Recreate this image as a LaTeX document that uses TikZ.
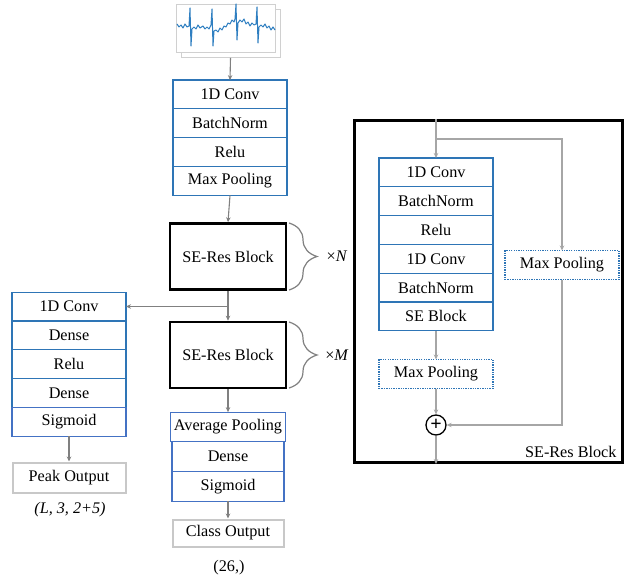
\documentclass[tikz,border=0pt]{standalone}
\usepackage{fontspec}
\setmainfont{Liberation Serif}
\usetikzlibrary{positioning,arrows.meta,decorations.pathreplacing}

\definecolor{layerblue}{HTML}{2E75B6}
\definecolor{headblue}{HTML}{4472C4}
\definecolor{flowgray}{HTML}{808080}
\definecolor{skipgray}{HTML}{A6A6A6}
\definecolor{outgray}{HTML}{C8C8C8}
\definecolor{sheetgray}{HTML}{D0D0D0}
\definecolor{ecgblue}{HTML}{2F7FC1}

\tikzset{
	netpicture/.style = {
		x = 1pt,
		y = -1pt,
		font = \fontsize{16.2}{19}\selectfont,
		arrow/.style = {
			draw = flowgray,
			line width = 1.1pt,
			-{Stealth[length = 5pt, width = 4.5pt]},
		},
		skiparrow/.style = {
			arrow,
			draw = skipgray,
		}
	},
	layer/.style = {
		rectangle,
		draw = layerblue,
		line width = 1.2pt,
		outer sep = 0pt,
		minimum width = 114pt,
		minimum height = 28.8pt
	},
	headlayer/.style = {
		layer,
		draw = headblue,
		minimum width = 112pt,
		minimum height = 29.7pt
	},
	poolbox/.style = {
		layer,
		dash pattern = on 1.3pt off 1.1pt,
		minimum height = 29pt
	},
	outbox/.style = {
		rectangle,
		draw = outgray,
		line width = 2pt,
		minimum height = 29pt
	},
	seres/.style = {
		rectangle,
		draw = black,
		line width = 2.6pt,
		minimum width = 116pt,
		minimum height = 66pt
	},
	blockbrace/.style = {
		draw = flowgray,
		line width = 1.2pt,
		decorate,
		decoration = {brace, amplitude = 28pt}
	},
	sheet/.style = {
		rectangle,
		draw = sheetgray,
		fill = white,
		line width = 0.8pt,
		minimum width = 99pt,
		minimum height = 48pt
	}
}

\begin{document}
\begin{tikzpicture}[netpicture]
	\useasboundingbox (0,0) rectangle (626,577);

	\node[sheet] (ecg) at (230.5,33.5) {};
	\node[sheet] (ecgfront) at (225.5,28) {};
	\draw[ecgblue, line width = 1pt, line join = round] plot coordinates {
		(177,24) (179,27) (181,25) (183,28) (185,24) (187,27) (189,26) (190,8) (191,46) (192,29)
		(194,27) (196,29) (198,25) (200,28) (203,26) (205,29) (207,27) (209,29) (211,25)
		(212,9) (213,46) (214,31) (216,30) (218,32) (220,28) (222,30) (224,26) (226,27)
		(228,23) (230,24) (232,20) (234,22) (235,19) (236,4) (237,40) (238,23) (240,20)
		(242,22) (244,19) (246,24) (248,22) (250,26) (252,23) (254,25) (256,24) (257,7)
		(258,43) (259,27) (261,25) (263,27) (265,24) (267,28) (269,26) (271,30) (273,27) (275,30)};

	\node[layer] (conv1) at (230,94.5) {1D Conv};
	\node[layer, below = 0pt of conv1] (bn1) {BatchNorm};
	\node[layer, below = 0pt of bn1] (relu1) {Relu};
	\node[layer, below = 0pt of relu1] (pool1) {Max Pooling};

	\node[seres] (seres1) at (228,256.5) {SE-Res Block};
	\node[seres] (seres2) at (228,355) {SE-Res Block};

	\draw[blockbrace] (289,223) -- (289,290);
	\node (timesN) at (337,256) {×\textit{N}};
	\draw[blockbrace] (289,322) -- (289,388);
	\node (timesM) at (337,355) {×\textit{M}};

	\node[layer] (pconv) at (69,306.5) {1D Conv};
	\node[layer, below = 0pt of pconv] (pdense1) {Dense};
	\node[layer, below = 0pt of pdense1] (prelu) {Relu};
	\node[layer, below = 0pt of prelu] (pdense2) {Dense};
	\node[layer, draw = headblue, below = 0pt of pdense2] (psig) {Sigmoid};
	\node[outbox, minimum width = 113pt, minimum height = 30pt] (peak) at (69,477.5) {Peak Output};
	\node (peakshape) at (70,510) {\textit{(L, 3, 2+5)}};

	\node[headlayer] (avgpool) at (228,427) {Average Pooling};
	\node[headlayer, below = 0pt of avgpool] (cdense) {Dense};
	\node[headlayer, below = 0pt of cdense] (csig) {Sigmoid};
	\node[outbox, minimum width = 111pt, minimum height = 27pt] (class) at (228,533) {Class Output};
	\node (classshape) at (229,568) {(26,)};

	\node[seres, line width = 3pt, minimum width = 268pt, minimum height = 342pt] (block) at (488.5,291.5) {};
	\node[anchor = south east] (blocklabel) at (620,461) {SE-Res Block};

	\node[layer] (bconv1) at (436,172.4) {1D Conv};
	\node[layer, below = 0pt of bconv1] (bbn1) {BatchNorm};
	\node[layer, below = 0pt of bbn1] (brelu) {Relu};
	\node[layer, below = 0pt of brelu] (bconv2) {1D Conv};
	\node[layer, below = 0pt of bconv2] (bbn2) {BatchNorm};
	\node[layer, below = 0pt of bbn2] (bse) {SE Block};
	\node[poolbox] (bpool) at (436,374) {Max Pooling};
	\node[poolbox] (spool) at (562,265) {Max Pooling};
	\node[circle, draw, line width = 1.3pt, minimum size = 20pt, inner sep = 0pt, font = \fontsize{20}{20}\selectfont\bfseries] (plus) at (436,425) {+};

	\coordinate (split) at (seres1.south |- pconv.east);
	\coordinate (blockin) at (bconv1.north |- block.north);
	\coordinate (blockout) at (plus.south |- block.south);
	\coordinate (skip) at (436,139);

	\begin{scope}[every path/.style = arrow]
		\path (ecg.south) -- (conv1.north);
		\path (pool1.south) -- (seres1.north);
		\path (seres1.south) -- (seres2.north);
		\path (split) -- (pconv.east);
		\path (psig.south) -- (peak.north);
		\path (seres2.south) -- (avgpool.north);
		\path (csig.south) -- (class.north);
	\end{scope}

	\begin{scope}[every path/.style = skiparrow]
		\path (blockin) -- (bconv1.north);
		\path (skip) -| (spool.north);
		\path (bse.south) -- (bpool.north);
		\path (bpool.south) -- (plus.north);
		\path (spool.south) |- (plus.east);
		\path (plus.south) -- (blockout);
	\end{scope}
\end{tikzpicture}
\end{document}
